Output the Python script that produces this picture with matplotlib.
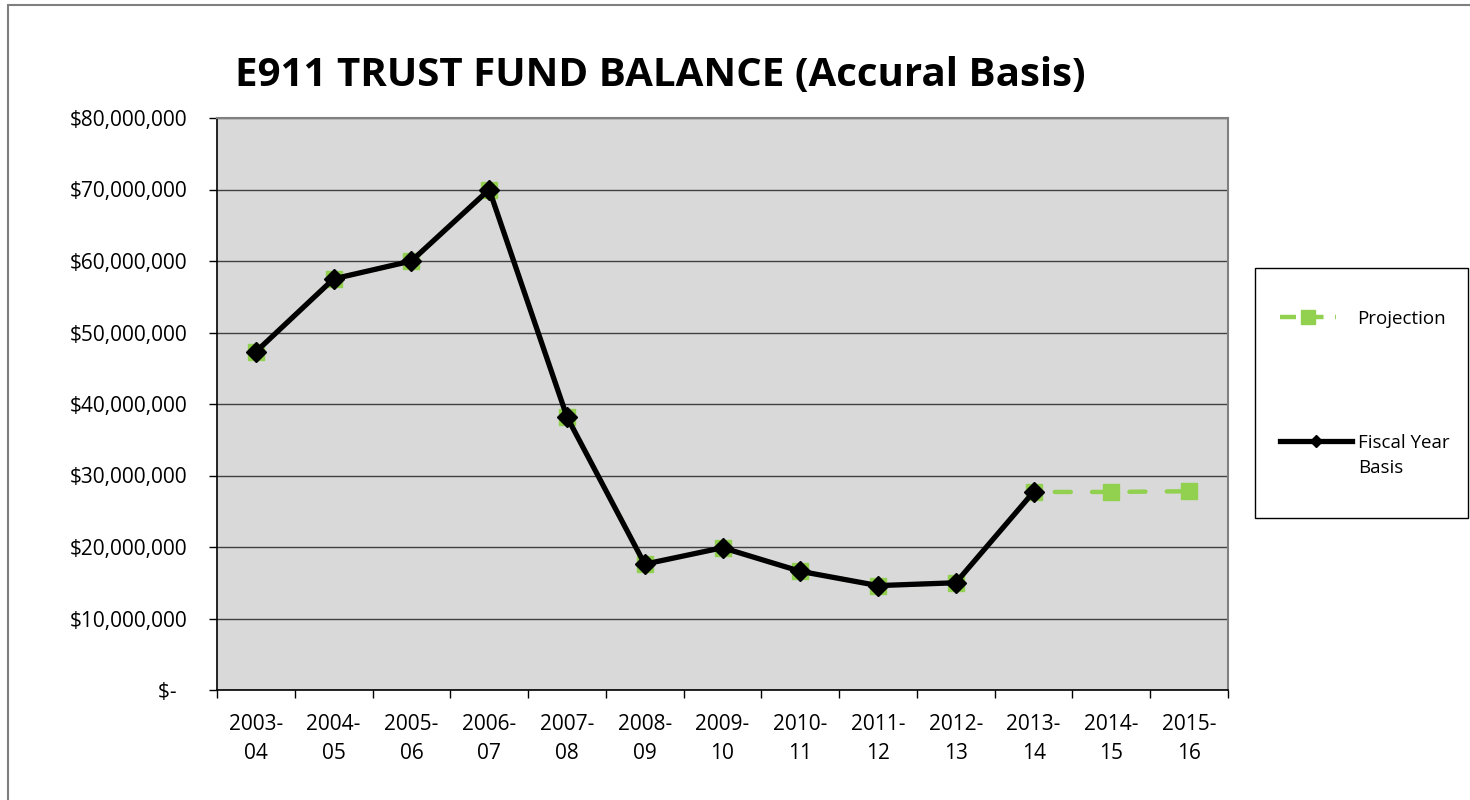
import matplotlib
matplotlib.use("Agg")
import matplotlib.pyplot as plt
from matplotlib.lines import Line2D
from matplotlib.patches import Rectangle
from matplotlib.ticker import FuncFormatter

categories = ["2003-\n04", "2004-\n05", "2005-\n06", "2006-\n07", "2007-\n08", "2008-\n09",
              "2009-\n10", "2010-\n11", "2011-\n12", "2012-\n13", "2013-\n14", "2014-\n15", "2015-\n16"]
fiscal_year = [47.3e6, 57.5e6, 60.0e6, 70.0e6, 38.2e6, 17.6e6, 19.9e6, 16.6e6, 14.6e6, 15.0e6, 27.7e6]
projection = [47.3e6, 57.5e6, 60.0e6, 70.0e6, 38.2e6, 17.6e6, 19.9e6, 16.6e6, 14.6e6, 15.0e6, 27.7e6, 27.7e6, 27.8e6]
title = "E911 TRUST FUND BALANCE (Accural Basis)"

plt.rcParams['font.family'] = ['Open Sans', 'DejaVu Sans']

fig = plt.figure(figsize=(14.7, 8), dpi=100)
fig.patches.append(Rectangle((8/1470, -0.1), 1.2, (800-5)/800 + 0.1, transform=fig.transFigure,
                             fill=False, edgecolor='#7f7f7f', linewidth=1.5))

ax = fig.add_axes([217/1470, 110/800, 1011/1470, 572/800])
ax.set_facecolor('#D9D9D9')

x_proj = list(range(len(projection)))
x_fy = list(range(len(fiscal_year)))
green = '#92D050'
ax.plot(x_proj, projection, color=green, linewidth=3.2, dashes=(3.6, 4.8), dash_capstyle='round',
        marker='s', markersize=11, markeredgecolor=green, markerfacecolor=green, zorder=3)
ax.plot(x_fy, fiscal_year, color='black', linewidth=3.8, marker='D', markersize=10.5,
        markerfacecolor='black', markeredgecolor='black', zorder=4)

ax.set_xlim(-0.5, len(categories) - 0.5)
ax.set_ylim(0, 80e6)
ax.set_yticks([i * 10e6 for i in range(9)])
ax.yaxis.set_major_formatter(FuncFormatter(lambda v, p: "$-  " if v == 0 else "${:,.0f}".format(v)))
ax.grid(axis='y', color='#404040', linewidth=1)
ax.set_axisbelow(True)

ax.set_xticks(x_proj)
ax.set_xticklabels(categories, fontsize=15, linespacing=1.5)
ax.set_xticks([i - 0.5 for i in range(len(categories) + 1)], minor=True)
ax.tick_params(axis='x', which='major', length=0, pad=17)
ax.tick_params(axis='x', which='minor', length=6, width=1, color='black')
ax.tick_params(axis='y', length=6, width=1, labelsize=15, pad=15)

for s in ['left', 'bottom']:
    ax.spines[s].set_color('black')
    ax.spines[s].set_linewidth(1.2)
for s in ['top', 'right']:
    ax.spines[s].set_color('#808080')
    ax.spines[s].set_linewidth(1.5)

fig.text(660/1470, 1 - 76/800, title, ha='center', va='center', fontsize=29, fontweight='bold')

# legend
fig.patches.append(Rectangle((1255/1470, 1 - 518/800), 213/1470, 250/800, transform=fig.transFigure,
                             fill=True, facecolor='white', edgecolor='black', linewidth=1))
h1 = Line2D([], [], color=green, linewidth=3.2, dashes=(3.6, 2.6), marker='s', markersize=10,
            markerfacecolor=green, markeredgecolor=green)
h2 = Line2D([], [], color='black', linewidth=3.8, marker='D', markersize=6)
fig.legend([h1], ["Projection"], loc='center left', bbox_to_anchor=(1280/1470, 1 - 319/800),
           frameon=False, fontsize=13.5, handlelength=3.0, handletextpad=1.1, borderpad=0,
           borderaxespad=0)
fig.legend([h2], ["Fiscal Year"], loc='center left', bbox_to_anchor=(1280/1470, 1 - 443/800),
           frameon=False, fontsize=13.5, handlelength=3.85, handletextpad=0.3, borderpad=0,
           borderaxespad=0)
fig.text(1358/1470, 1 - 468/800, "Basis", ha='left', va='center', fontsize=13.5)

fig.savefig("out.png", dpi=100)
